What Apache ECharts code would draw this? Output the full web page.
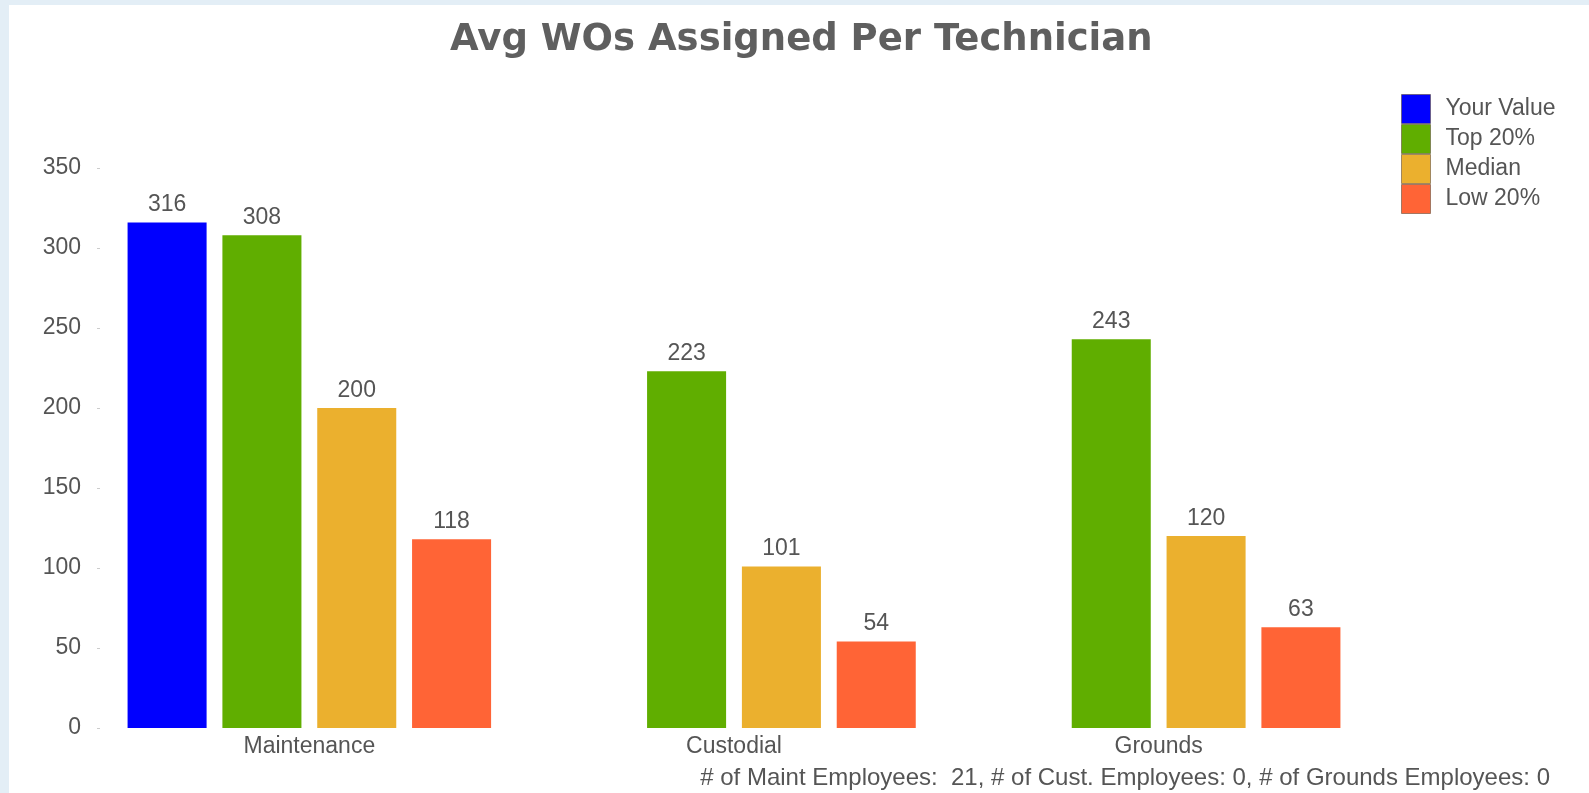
<!DOCTYPE html>
<html>
<head>
<meta charset="utf-8">
<script src="https://cdn.jsdelivr.net/npm/echarts@6/dist/echarts.min.js"></script>
<style>
  html, body { margin: 0; padding: 0; background: #e3eef6; }
  #panel { position: absolute; left: 9px; top: 5px; right: 0; bottom: 0; background: #ffffff; }
  #chart { position: absolute; left: 0; top: 0; width: 1589px; height: 793px; }
</style>
</head>
<body>
<div id="panel"></div>
<div id="chart"></div>
<script>
// chart data
const categories = ["Maintenance", "Custodial", "Grounds"];
const seriesNames = ["Your Value", "Top 20%", "Median", "Low 20%"];
const yourValue = [316, null, null];
const top20 = [308, 223, 243];
const median = [200, 101, 120];
const low20 = [118, 54, 63];
const footerText = "# of Maint Employees:  21, # of Cust. Employees: 0, # of Grounds Employees: 0";

const colors = ["#0000ff", "#60ae00", "#ebb02e", "#ff6436"];
const labelFont = "'Liberation Sans', Arial, sans-serif";
const textGray = "#555555";

const chart = echarts.init(document.getElementById("chart"));

function barSeries(name, data, color) {
    return {
        name: name,
        type: "bar",
        data: data,
        barGap: "20%",
        barCategoryGap: "14.4%",
        itemStyle: { color: color },
        label: {
            show: true,
            position: "top",
            distance: 6,
            color: textGray,
            fontFamily: labelFont,
            fontSize: 23
        }
    };
}

const option = {
    animation: false,
    title: [
        {
            text: "Avg WOs Assigned Per Technician",
            left: 450,
            top: 22,
            padding: 0,
            textStyle: {
                fontFamily: "'DejaVu Sans', Verdana, sans-serif",
                fontWeight: "bold",
                fontSize: 37,
                color: "#5f5f5f"
            }
        },
        {
            text: footerText,
            right: 39,
            top: 766,
            padding: 0,
            textStyle: {
                fontFamily: labelFont,
                fontWeight: "normal",
                fontSize: 24,
                color: textGray
            }
        }
    ],
    legend: {
        orient: "vertical",
        left: 1401,
        top: 94,
        padding: 0,
        itemWidth: 29,
        itemHeight: 29,
        itemGap: 0,
        icon: "rect",
        textStyle: {
            fontFamily: labelFont,
            fontSize: 23,
            color: textGray,
            padding: [0, 0, 0, 10]
        },
        data: seriesNames.map(n => ({
            name: n,
            itemStyle: { borderColor: "rgba(90,70,50,0.55)", borderWidth: 1 }
        }))
    },
    grid: {
        left: 97,
        right: 218,
        top: 168,
        bottom: 65
    },
    xAxis: {
        type: "category",
        data: categories,
        axisLine: { show: false },
        axisTick: { show: false },
        axisLabel: {
            margin: 7,
            color: textGray,
            fontFamily: labelFont,
            fontSize: 23
        }
    },
    yAxis: {
        type: "value",
        min: 0,
        max: 350,
        interval: 50,
        splitLine: { show: false },
        axisLine: { show: false },
        axisTick: {
            show: true,
            inside: true,
            length: 3,
            lineStyle: { color: "#cccccc" }
        },
        axisLabel: {
            margin: 16,
            color: textGray,
            fontFamily: labelFont,
            fontSize: 23
        }
    },
    series: [
        barSeries(seriesNames[0], yourValue, colors[0]),
        barSeries(seriesNames[1], top20, colors[1]),
        barSeries(seriesNames[2], median, colors[2]),
        barSeries(seriesNames[3], low20, colors[3])
    ]
};

chart.setOption(option);
window.addEventListener("resize", () => chart.resize());
</script>
</body>
</html>
